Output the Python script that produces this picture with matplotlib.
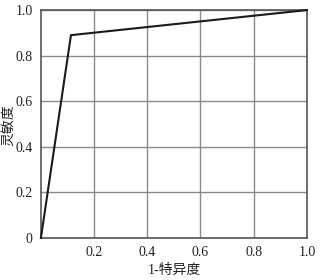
import matplotlib
matplotlib.use("Agg")
import matplotlib.pyplot as plt

fpr = [0.0, 0.113, 1.0]
tpr = [0.0, 0.89, 1.0]
xticks = [0.2, 0.4, 0.6, 0.8, 1.0]
xticklabels = ["0.2", "0.4", "0.6", "0.8", "1.0"]
yticks = [0.0, 0.2, 0.4, 0.6, 0.8, 1.0]
yticklabels = ["0", "0.2", "0.4", "0.6", "0.8", "1.0"]

fam = ["Liberation Serif", "Noto Sans CJK SC"]
plt.rcParams["font.family"] = fam

fig = plt.figure(figsize=(3.22, 2.80), dpi=100)
ax = fig.add_axes([0.127, 0.150, 0.826, 0.814])
ax.plot(fpr, tpr, color="#1a1a1a", lw=1.5, clip_on=False, zorder=3)
ax.set_xlim(0, 1)
ax.set_ylim(0, 1)
ax.set_xticks(xticks)
ax.set_xticklabels(xticklabels)
ax.set_yticks(yticks)
ax.set_yticklabels(yticklabels)
ax.grid(True, color="#8a8a8a", lw=1.0)
ax.tick_params(length=0, labelsize=10, colors="#222222", pad=6)
for s in ax.spines.values():
    s.set_color("#555555")
    s.set_linewidth(1.2)
ax.set_xlabel("1-特异度", fontsize=10, labelpad=3, color="#222222")
fig.text(9 / 322, 1 - 125 / 280, "灵敏度", rotation=90, ha="center", va="center",
         fontsize=10, color="#222222")
fig.savefig("out.png", dpi=100)
